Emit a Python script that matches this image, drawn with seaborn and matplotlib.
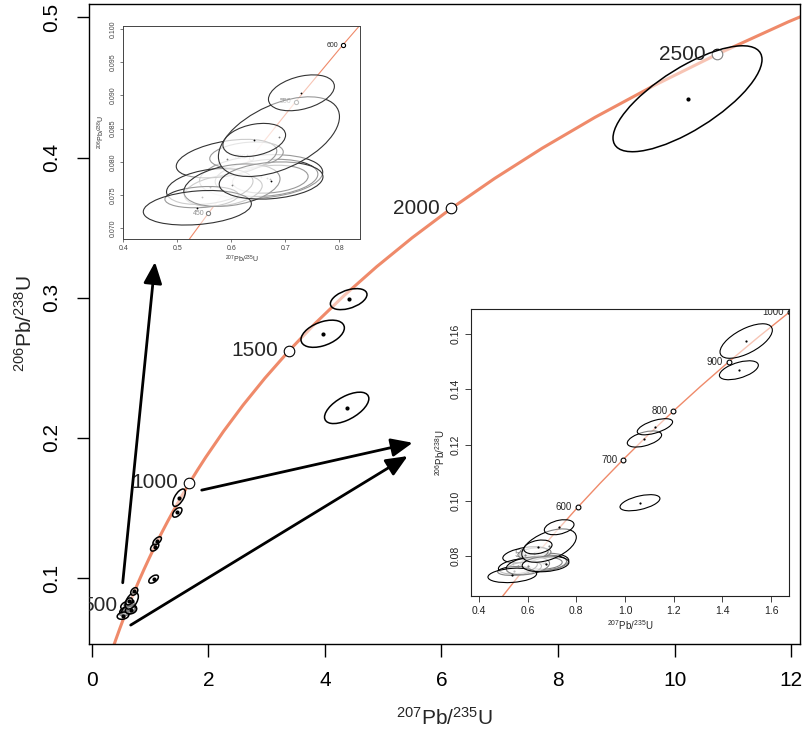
import numpy as np
import pandas as pd
import matplotlib
matplotlib.use("Agg")
import matplotlib.pyplot as plt
from matplotlib.patches import Ellipse
from matplotlib.transforms import offset_copy
import seaborn as sns

# Concordia curve (age in Ma)
curve_age = [300, 350, 400, 450, 500, 550, 600, 650, 700, 750, 800, 850, 900, 950,
             1000, 1050, 1100, 1200, 1300, 1400, 1500, 1600, 1700, 1800, 1900,
             2000, 2100, 2200, 2300, 2400, 2500, 2600, 2700]
curve_x = [0.34374, 0.41156, 0.48281, 0.55766, 0.63628, 0.71887, 0.80563, 0.89677,
           0.99251, 1.09308, 1.19873, 1.30971, 1.42630, 1.54876, 1.67741, 1.81255,
           1.95452, 2.26030, 2.59774, 2.97009, 3.38099, 3.83441, 4.33477, 4.88690,
           5.49618, 6.16853, 6.91046, 7.72917, 8.63262, 9.62957, 10.72971,
           11.94372, 13.28335]
curve_y = [0.04764, 0.05579, 0.06402, 0.07230, 0.08065, 0.08906, 0.09754, 0.10609,
           0.11470, 0.12338, 0.13213, 0.14094, 0.14983, 0.15878, 0.16780, 0.17690,
           0.18606, 0.20460, 0.22344, 0.24256, 0.26199, 0.28172, 0.30175, 0.32211,
           0.34277, 0.36377, 0.38509, 0.40674, 0.42873, 0.45107, 0.47375,
           0.49679, 0.52019]

main_ages = [500, 1000, 1500, 2000, 2500]
inset1_ages = [450, 500, 550, 600]
inset2_ages = [500, 600, 700, 800, 900, 1000]

# error ellipses (centre, half extent in x / y, correlation), in drawing order
ell_x = [0.655, 0.665, 0.672, 0.628, 0.585, 0.591, 0.560, 0.545, 0.601, 0.537,
         0.6735, 0.688, 0.6423, 0.7296, 1.0616, 1.080, 1.123, 1.468, 1.498,
         4.374, 3.962, 4.408, 10.22]
ell_y = [0.0778, 0.0776, 0.0774, 0.0810, 0.0757, 0.0805, 0.0763, 0.0747, 0.0765,
         0.0731, 0.0772, 0.0838, 0.0833, 0.0904, 0.0992, 0.1221, 0.1265, 0.1468,
         0.1573, 0.2214, 0.2743, 0.2990, 0.4420]
ell_sx = [0.114, 0.095, 0.070, 0.068, 0.072, 0.093, 0.080, 0.068, 0.089, 0.100,
          0.096, 0.112, 0.058, 0.061, 0.082, 0.0705, 0.0726, 0.080, 0.1075,
          0.380, 0.372, 0.314, 1.278]
ell_sy = [0.0033, 0.0028, 0.0021, 0.0020, 0.0024, 0.0029, 0.0027, 0.0016, 0.0032,
          0.0026, 0.0028, 0.0060, 0.0025, 0.0027, 0.0029, 0.0029, 0.0029, 0.0034,
          0.0062, 0.0112, 0.0097, 0.0075, 0.0378]
ell_rho = [0.2, 0.2, 0.2, 0.25, 0.3, 0.4, 0.3, 0.2, 0.3, 0.23, 0.2, 0.5, 0.3, 0.36,
           0.52, 0.5, 0.6, 0.53, 0.63, 0.59, 0.43, 0.44, 0.74]

# arrows in the main panel (from -> to)
arrow_x0 = [0.532, 1.887, 0.669]
arrow_y0 = [0.0966, 0.1627, 0.0664]
arrow_x1 = [1.086, 5.506, 5.420]
arrow_y1 = [0.3255, 0.1965, 0.1870]

main_xticks = [0, 2, 4, 6, 8, 10, 12]
main_yticks = [0.1, 0.2, 0.3, 0.4, 0.5]
in1_xticks = [0.4, 0.5, 0.6, 0.7, 0.8]
in1_yticks = [0.070, 0.075, 0.080, 0.085, 0.090, 0.095, 0.100]
in2_xticks = [0.4, 0.6, 0.8, 1.0, 1.2, 1.4, 1.6]
in2_yticks = [0.08, 0.10, 0.12, 0.14, 0.16]

curve = pd.DataFrame({"age": curve_age, "x": curve_x, "y": curve_y})
ells = pd.DataFrame({"x": ell_x, "y": ell_y, "sx": ell_sx, "sy": ell_sy, "rho": ell_rho})

sns.set_style("ticks")
plt.rcParams['font.family'] = ['Liberation Sans', 'DejaVu Sans']
plt.rcParams['mathtext.fontset'] = 'custom'
plt.rcParams['mathtext.rm'] = 'Liberation Sans'
plt.rcParams['mathtext.it'] = 'Liberation Sans:italic'

CURVE = '#EF8A6A'
XLAB = r'$^{207}$Pb/$^{235}$U'
YLAB = r'$^{206}$Pb/$^{238}$U'


def draw_panel(ax, ages, lw_curve, ms, lw_ell, ec, dot, fs_age, off, label_top):
    sns.lineplot(data=curve, x="x", y="y", sort=False, ax=ax, color=CURVE,
                 lw=lw_curve, zorder=1, legend=False)
    marks = curve[curve["age"].isin(ages)]
    sns.scatterplot(data=marks, x="x", y="y", ax=ax, s=ms, facecolor='white',
                    edgecolor='black', linewidth=0.8, zorder=2, legend=False)
    tr = offset_copy(ax.transData, fig=ax.figure, x=-off, y=0, units='points')
    for _, r in marks.iterrows():
        ax.text(r["x"], r["y"], str(int(r["age"])), transform=tr, ha='right',
                va='center', fontsize=fs_age, clip_on=True,
                zorder=6 if label_top else 1.5)
    for i, e in ells.iterrows():
        cov = np.array([[e.sx ** 2, e.rho * e.sx * e.sy],
                        [e.rho * e.sx * e.sy, e.sy ** 2]])
        vals, vecs = np.linalg.eigh(cov)
        ang = np.degrees(np.arctan2(vecs[1, 1], vecs[0, 1]))
        z = 3 + i * 0.01
        ax.add_patch(Ellipse((e.x, e.y), 2 * np.sqrt(vals[1]), 2 * np.sqrt(vals[0]),
                             angle=ang, facecolor=(1, 1, 1, 0.5), edgecolor=ec,
                             lw=lw_ell, zorder=z))
        ax.plot(e.x, e.y, 'o', color='black', ms=dot, mew=0, zorder=z + 0.005)


fig = plt.figure(figsize=(8.09, 7.30), dpi=100)

# main panel
ax = fig.add_axes([0.1104, 0.1182, 0.8785, 0.8763])
draw_panel(ax, main_ages, 2.2, 58, 1.1, 'black', 3.0, 15, 8, True)
for x0, y0, x1, y1 in zip(arrow_x0, arrow_y0, arrow_x1, arrow_y1):
    ax.annotate('', xy=(x1, y1), xytext=(x0, y0), zorder=7,
                arrowprops=dict(arrowstyle='-|>,head_length=0.65,head_width=0.28',
                                color='black', lw=2, mutation_scale=20,
                                shrinkA=0, shrinkB=0))
ax.set_xlim(-0.041, 12.15)
ax.set_ylim(0.0531, 0.5096)
ax.set_xticks(main_xticks)
ax.set_xticklabels([str(v) for v in main_xticks])
ax.set_yticks(main_yticks)
ax.set_yticklabels([f'{v:.1f}' for v in main_yticks], rotation=90, va='center')
ax.tick_params(direction='out', length=9, width=1, labelsize=15, pad=11, colors='black')
ax.set_xlabel(XLAB, fontsize=15, labelpad=12)
ax.set_ylabel(YLAB, fontsize=15, labelpad=5)
for s in ax.spines.values():
    s.set_linewidth(1.0)
    s.set_color('black')

# inset 1: the cluster of young grains
ax1 = fig.add_axes([0.1524, 0.6726, 0.2926, 0.2922])
ax1.set_facecolor('white')
draw_panel(ax1, inset1_ages, 0.8, 9, 0.8, '#333333', 1.3, 5, 3, False)
ax1.set_xlim(0.4, 0.838)
ax1.set_ylim(0.0684, 0.1005)
ax1.set_xticks(in1_xticks)
ax1.set_xticklabels([f'{v:.1f}' for v in in1_xticks])
ax1.set_yticks(in1_yticks)
ax1.set_yticklabels([f'{v:.3f}' for v in in1_yticks], rotation=90, va='center')
ax1.tick_params(direction='out', length=2.5, width=0.5, labelsize=5, pad=2,
                colors='#444444')
ax1.set_xlabel(XLAB, fontsize=5, labelpad=1, color='#333333')
ax1.set_ylabel(YLAB, fontsize=5, labelpad=2, color='#333333')
for s in ax1.spines.values():
    s.set_linewidth(0.7)
    s.set_color('#444444')

# inset 2: grains up to 1000 Ma
ax2 = fig.add_axes([0.5818, 0.1836, 0.3938, 0.3927])
ax2.set_facecolor('white')
draw_panel(ax2, inset2_ages, 1.0, 12, 0.8, 'black', 1.6, 7, 4, False)
ax2.set_xlim(0.366, 1.675)
ax2.set_ylim(0.0657, 0.1687)
ax2.set_xticks(in2_xticks)
ax2.set_xticklabels([f'{v:.1f}' for v in in2_xticks])
ax2.set_yticks(in2_yticks)
ax2.set_yticklabels([f'{v:.2f}' for v in in2_yticks], rotation=90, va='center')
ax2.tick_params(direction='out', length=4, width=0.6, labelsize=7.5, pad=3,
                colors='#222222')
ax2.set_xlabel(XLAB, fontsize=7, labelpad=2)
ax2.set_ylabel(YLAB, fontsize=7, labelpad=3)
for s in ax2.spines.values():
    s.set_linewidth(0.8)
    s.set_color('#222222')

fig.savefig('out.png', dpi=100)
